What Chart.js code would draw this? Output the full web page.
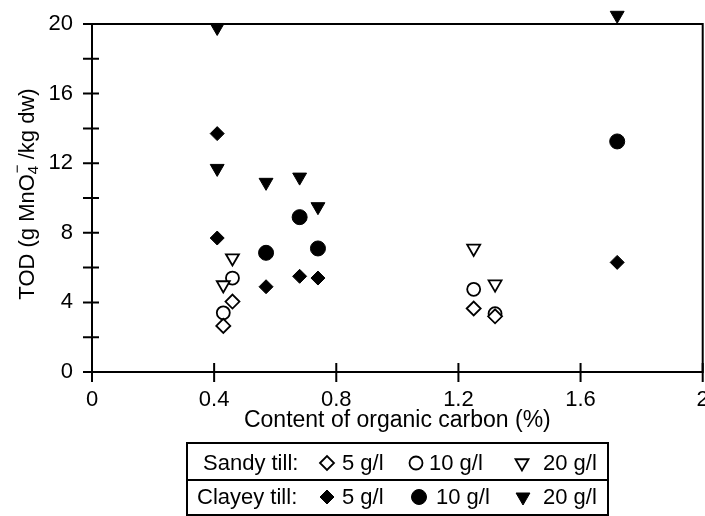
<!DOCTYPE html>
<html>
<head>
<meta charset="utf-8">
<script src="https://cdn.jsdelivr.net/npm/chart.js@4/dist/chart.umd.min.js"></script>
<style>
  body { margin: 0; background: #fff; overflow: hidden; }
  /* a little wider than the window so the last x label runs off the edge */
  #wrap { width: 712px; height: 516px; position: relative; }
</style>
</head>
<body>
<div id="wrap"><canvas id="todChart"></canvas></div>
<script>
// organic carbon content (%) of the samples
const sandyCarbon = [0.43, 0.46, 1.25, 1.32];
const clayeyCarbon = [0.41, 0.41, 0.57, 0.68, 0.74, 1.72];

// TOD (g MnO4-/kg dw) per permanganate dose
const sandy5 = [2.65, 4.05, 3.65, 3.2];
const sandy10 = [3.4, 5.4, 4.75, 3.35];
const sandy20 = [5.0, 6.55, 7.1, 5.05];
const clayey5 = [13.7, 7.7, 4.9, 5.5, 5.4, 6.3];
const clayey10 = [null, null, 6.85, 8.9, 7.1, 13.25];
const clayey20 = [19.8, 11.7, 10.9, 11.2, 9.5, 20.5];

const xTicks = [0, 0.4, 0.8, 1.2, 1.6, 2];
const yLabelled = [0, 4, 8, 12, 16, 20];

const FONT = 'Liberation Sans, Arial, Helvetica, sans-serif';

function points(xs, ys) {
  const out = [];
  xs.forEach((x, i) => {
    if (ys[i] !== null) out.push({ x: x, y: ys[i] });
  });
  return out;
}

function series(label, data, style, filled, radius) {
  return {
    label: label,
    data: data,
    showLine: false,
    clip: false,
    pointStyle: style,
    pointRotation: style === 'triangle' ? 180 : 0,
    pointRadius: radius,
    pointHoverRadius: radius,
    pointBackgroundColor: filled ? '#000' : '#fff',
    pointBorderColor: '#000',
    pointBorderWidth: filled ? 1 : 1.8,
  };
}

// frame and ticks crossing the axes
const framePlugin = {
  id: 'frame',
  beforeDatasetsDraw(chart) {
    const ctx = chart.ctx;
    const a = chart.chartArea;
    const xs = chart.scales.x;
    const ys = chart.scales.y;
    ctx.save();
    ctx.strokeStyle = '#000';
    ctx.lineWidth = 2;
    ctx.strokeRect(a.left, a.top, a.right - a.left, a.bottom - a.top);
    ctx.beginPath();
    ys.ticks.forEach(t => {
      const py = ys.getPixelForValue(t.value);
      ctx.moveTo(a.left - 9, py);
      ctx.lineTo(a.left + 7, py);
    });
    xTicks.forEach(v => {
      const px = xs.getPixelForValue(v);
      ctx.moveTo(px, a.bottom - 9);
      ctx.lineTo(px, a.bottom + 10);
    });
    ctx.stroke();
    ctx.restore();
  }
};

// y title with subscript and superscript
const yTitlePlugin = {
  id: 'yTitle',
  afterDraw(chart) {
    const ctx = chart.ctx;
    const a = chart.chartArea;
    const big = '22px ' + FONT;
    const small = '15px ' + FONT;
    ctx.save();
    ctx.fillStyle = '#000';
    ctx.textBaseline = 'alphabetic';
    ctx.textAlign = 'left';
    ctx.font = big;
    const w1 = ctx.measureText('TOD (g MnO').width;
    const w3 = ctx.measureText(' /kg dw)').width;
    ctx.font = small;
    const w2 = Math.max(ctx.measureText('4').width, ctx.measureText('\u2212').width);
    const total = w1 + w2 + w3;
    ctx.translate(34, (a.top + a.bottom) / 2 - 4);
    ctx.rotate(-Math.PI / 2);
    let x = -total / 2;
    ctx.font = big;
    ctx.fillText('TOD (g MnO', x, 0);
    x += w1;
    ctx.font = small;
    ctx.fillText('4', x, 4);
    ctx.fillText('\u2212', x + 1, -12);
    x += w2;
    ctx.font = big;
    ctx.fillText(' /kg dw)', x, 0);
    ctx.restore();
  }
};

// boxed legend below the axis title
const legendPlugin = {
  id: 'boxLegend',
  afterDraw(chart) {
    const ctx = chart.ctx;
    const rows = [
      { name: 'Sandy till:', nameX: 203, y: 463, filled: false,
        items: [[327, 342, 'rectRot', 7], [416, 429, 'circle', 6.5], [522, 543, 'triangle', 7.5]] },
      { name: 'Clayey till:', nameX: 197, y: 497, filled: true,
        items: [[327, 342, 'rectRot', 7], [419, 436, 'circle', 7.5], [523, 543, 'triangle', 8]] }
    ];
    const doses = ['5 g/l', '10 g/l', '20 g/l'];
    ctx.save();
    ctx.strokeStyle = '#000';
    ctx.lineWidth = 2;
    ctx.strokeRect(187, 443, 421, 72);
    ctx.beginPath();
    ctx.moveTo(187, 480);
    ctx.lineTo(608, 480);
    ctx.stroke();
    ctx.font = '22px ' + FONT;
    ctx.textBaseline = 'middle';
    ctx.textAlign = 'left';
    rows.forEach(r => {
      ctx.fillStyle = '#000';
      ctx.fillText(r.name, r.nameX, r.y + 1);
      r.items.forEach((it, i) => {
        ctx.fillStyle = r.filled ? '#000' : '#fff';
        ctx.strokeStyle = '#000';
        ctx.lineWidth = r.filled ? 1 : 1.8;
        Chart.helpers.drawPoint(ctx, {
          pointStyle: it[2],
          rotation: it[2] === 'triangle' ? 180 : 0,
          radius: it[3],
          borderWidth: ctx.lineWidth
        }, it[0], r.y);
        ctx.fillStyle = '#000';
        ctx.fillText(doses[i], it[1], r.y + 1);
      });
    });
    ctx.restore();
  }
};

const ctx = document.getElementById('todChart').getContext('2d');
new Chart(ctx, {
  type: 'scatter',
  data: {
    // earlier datasets are painted on top
    datasets: [
      series('Sandy till 5 g/l', points(sandyCarbon, sandy5), 'rectRot', false, 7),
      series('Clayey till 5 g/l', points(clayeyCarbon, clayey5), 'rectRot', true, 7),
      series('Sandy till 20 g/l', points(sandyCarbon, sandy20), 'triangle', false, 7.5),
      series('Clayey till 20 g/l', points(clayeyCarbon, clayey20), 'triangle', true, 8),
      series('Sandy till 10 g/l', points(sandyCarbon, sandy10), 'circle', false, 6.5),
      series('Clayey till 10 g/l', points(clayeyCarbon, clayey10), 'circle', true, 7.5),
    ],
  },
  options: {
    responsive: true,
    maintainAspectRatio: false,
    animation: false,
    events: [],
    layout: { padding: { top: 24, right: 0, bottom: 82, left: 0 } },
    plugins: {
      legend: { display: false },
      tooltip: { enabled: false },
    },
    scales: {
      x: {
        type: 'linear',
        min: 0,
        max: 2,
        grid: { display: false, drawTicks: false },
        border: { display: false },
        afterBuildTicks(scale) {
          scale.ticks = xTicks.map(v => ({ value: v }));
        },
        afterFit(scale) {
          scale.height = 62;
          scale.paddingLeft = 0;
          scale.paddingRight = 0;
        },
        ticks: {
          padding: 15,
          color: '#000',
          font: { family: FONT, size: 22 },
          callback: v => String(+v.toFixed(1)),
        },
        title: {
          display: true,
          text: 'Content of organic carbon (%)',
          color: '#000',
          font: { family: FONT, size: 23 },
          padding: { top: 2, bottom: 0 },
        },
      },
      y: {
        type: 'linear',
        min: 0,
        max: 20,
        grid: { display: false, drawTicks: false },
        border: { display: false },
        afterFit(scale) {
          scale.width = 92;
          scale.paddingTop = 0;
          scale.paddingBottom = 0;
        },
        ticks: {
          stepSize: 2,
          autoSkip: false,
          padding: 19,
          color: '#000',
          font: { family: FONT, size: 22 },
          callback: v => (yLabelled.includes(v) ? String(v) : ''),
        },
      },
    },
  },
  plugins: [framePlugin, yTitlePlugin, legendPlugin],
});
</script>
</body>
</html>
